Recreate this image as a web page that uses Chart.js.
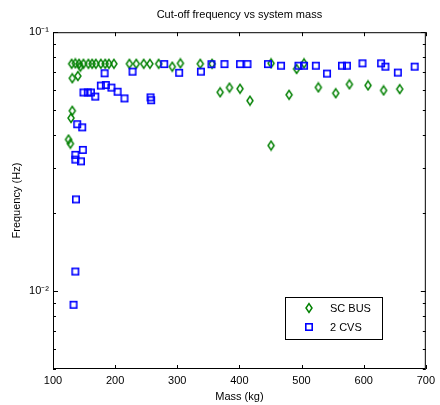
<!DOCTYPE html>
<html>
<head>
<meta charset="utf-8">
<title>Cut-off frequency vs system mass</title>
<script src="https://cdn.jsdelivr.net/npm/chart.js@4.4.1/dist/chart.umd.min.js"></script>
<style>
  html, body { margin: 0; padding: 0; background: #fff; }
  #wrap { width: 440px; height: 405px; }
</style>
</head>
<body>
<div id="wrap"><canvas id="chart" width="440" height="405"></canvas></div>
<script>
// ---- data ----
const seriesNames = ['SC BUS', '2 CVS'];

const busMass = [125, 128, 129, 131, 130, 131, 136, 140, 142, 144, 149, 157, 163, 169, 177, 184, 190, 198,
  223, 234, 246, 256, 270, 292, 305, 337, 356, 369, 384, 401, 417, 451, 451, 480, 492, 504,
  527, 555, 577, 607, 632, 658];
const busFreq = [0.0385, 0.0371, 0.0466, 0.0497, 0.0755, 0.0664, 0.0758, 0.0677, 0.0755, 0.0736,
  0.0755, 0.0755, 0.0755, 0.0755, 0.0755, 0.0755, 0.0755, 0.0755,
  0.0755, 0.0755, 0.0755, 0.0755, 0.0755, 0.0736, 0.0758, 0.0755, 0.0755,
  0.0586, 0.0611, 0.0605, 0.0544, 0.0758, 0.0365, 0.0573, 0.0721, 0.0758,
  0.0612, 0.0581, 0.0629, 0.0623, 0.0596, 0.0603];

const cvsMass = [133, 136, 137, 136, 136, 145, 148, 139, 147, 149, 156, 161, 168, 177, 185, 183,
  194, 204, 215, 228, 257, 258, 279, 303, 338, 355, 376, 401, 413, 446, 467, 495, 504, 523,
  541, 565, 573, 598, 628, 635, 655, 682];
const cvsFreq = [0.00885, 0.0119, 0.0226, 0.0336, 0.0322, 0.0317, 0.0351, 0.0441, 0.0429,
  0.0585, 0.0585, 0.0585, 0.0564, 0.0622, 0.0625, 0.0694, 0.0611, 0.0589, 0.0555,
  0.0704, 0.056, 0.0546, 0.0753, 0.0697, 0.0704, 0.0752, 0.0753, 0.0753, 0.0753, 0.0753,
  0.0742, 0.0742, 0.0742, 0.0742, 0.0692, 0.0742, 0.0742, 0.0758, 0.0758, 0.0736, 0.0698, 0.0736];

const xTicks = [100, 200, 300, 400, 500, 600, 700];
const yMajor = [0.01, 0.1];
const yTickLabels = ['10\u207B\u00B2', '10\u207B\u00B9'];
const yMinor = [0.005, 0.006, 0.007, 0.008, 0.009, 0.02, 0.03, 0.04, 0.05, 0.06, 0.07, 0.08, 0.09];

const FONT = '"Liberation Sans", Arial, Helvetica, sans-serif';
const GREEN = '#008000';
const BLUE = '#0000ff';

// hollow MATLAB-like markers
function diamondMarker(color) {
  const c = document.createElement('canvas');
  c.width = 10; c.height = 12;
  const g = c.getContext('2d');
  g.strokeStyle = color; g.lineWidth = 1.5;
  g.beginPath();
  g.moveTo(5, 1.6); g.lineTo(8, 6); g.lineTo(5, 10.4); g.lineTo(2, 6);
  g.closePath();
  g.stroke();
  return c;
}
function squareMarker(color) {
  const c = document.createElement('canvas');
  c.width = 10; c.height = 10;
  const g = c.getContext('2d');
  g.strokeStyle = color; g.lineWidth = 1.6;
  g.strokeRect(1.8, 1.8, 6.4, 6.4);
  return c;
}
const busMarker = diamondMarker(GREEN);
const cvsMarker = squareMarker(BLUE);

function labelFor(v) {
  for (let i = 0; i < yMajor.length; i++) {
    if (Math.abs(Math.log10(v) - Math.log10(yMajor[i])) < 1e-6) return yTickLabels[i];
  }
  return '';
}

// box, inward ticks and the legend, MATLAB style
const axesFrame = {
  id: 'axesFrame',
  afterDraw(chart) {
    const { ctx, chartArea: a, scales: { x, y } } = chart;
    ctx.save();
    ctx.strokeStyle = '#000';
    ctx.lineWidth = 1;
    ctx.beginPath();
    xTicks.forEach(v => {
      const px = Math.round(x.getPixelForValue(v)) + 0.5;
      ctx.moveTo(px, a.bottom); ctx.lineTo(px, a.bottom - 4);
      ctx.moveTo(px, a.top); ctx.lineTo(px, a.top + 4);
    });
    yMajor.concat(yMinor).forEach(v => {
      const len = yMajor.includes(v) ? 5 : 3;
      const py = Math.round(y.getPixelForValue(v)) + 0.5;
      ctx.moveTo(a.left, py); ctx.lineTo(a.left + len, py);
      ctx.moveTo(a.right, py); ctx.lineTo(a.right - len, py);
    });
    ctx.stroke();
    ctx.strokeRect(a.left + 0.5, a.top + 0.5, a.right - a.left - 1, a.bottom - a.top - 1);

    // legend
    ctx.fillStyle = '#fff';
    ctx.fillRect(285, 297, 97, 42);
    ctx.strokeRect(285.5, 297.5, 97, 42);
    ctx.drawImage(busMarker, 304, 302);
    ctx.drawImage(cvsMarker, 304, 322);
    ctx.fillStyle = '#000';
    ctx.font = '11px ' + FONT;
    ctx.textBaseline = 'middle';
    ctx.fillText(seriesNames[0], 330, 308.5);
    ctx.fillText(seriesNames[1], 330, 327.5);
    ctx.restore();
  }
};

new Chart(document.getElementById('chart').getContext('2d'), {
  type: 'scatter',
  data: {
    datasets: [
      {
        label: seriesNames[1],
        data: cvsMass.map((m, i) => ({ x: m, y: cvsFreq[i] })),
        pointStyle: cvsMarker,
        pointRadius: 5,
      },
      {
        label: seriesNames[0],
        data: busMass.map((m, i) => ({ x: m, y: busFreq[i] })),
        pointStyle: busMarker,
        pointRadius: 5,
      }
    ]
  },
  options: {
    responsive: false,
    animation: false,
    events: [],
    layout: { padding: { left: 0, right: 6, top: 0, bottom: 0 } },
    plugins: {
      legend: { display: false },
      tooltip: { enabled: false },
      title: {
        display: true,
        fullSize: false,
        text: 'Cut-off frequency vs system mass',
        color: '#000',
        font: { family: FONT, size: 11, weight: 'normal' },
        padding: { top: 8, bottom: 11 }
      }
    },
    scales: {
      x: {
        type: 'linear',
        min: 100,
        max: 700,
        grid: { display: false, drawTicks: false },
        border: { display: false },
        afterBuildTicks: s => { s.ticks = xTicks.map(v => ({ value: v })); },
        ticks: { color: '#000', font: { family: FONT, size: 11 }, padding: 5 },
        title: {
          display: true,
          text: 'Mass (kg)',
          color: '#000',
          font: { family: FONT, size: 11 },
          padding: { top: 0, bottom: 1 }
        },
        afterFit: s => { s.height = 36; }
      },
      y: {
        type: 'logarithmic',
        min: 0.005,
        max: 0.1,
        grid: { display: false, drawTicks: false },
        border: { display: false },
        ticks: {
          autoSkip: false,
          color: '#000',
          font: { family: FONT, size: 11 },
          padding: 4,
          callback: v => labelFor(v)
        },
        title: {
          display: true,
          text: 'Frequency (Hz)',
          color: '#000',
          font: { family: FONT, size: 11 },
          padding: { top: 10, bottom: 0 }
        },
        afterFit: s => { s.width = 53; }
      }
    }
  },
  plugins: [axesFrame]
});
</script>
</body>
</html>
